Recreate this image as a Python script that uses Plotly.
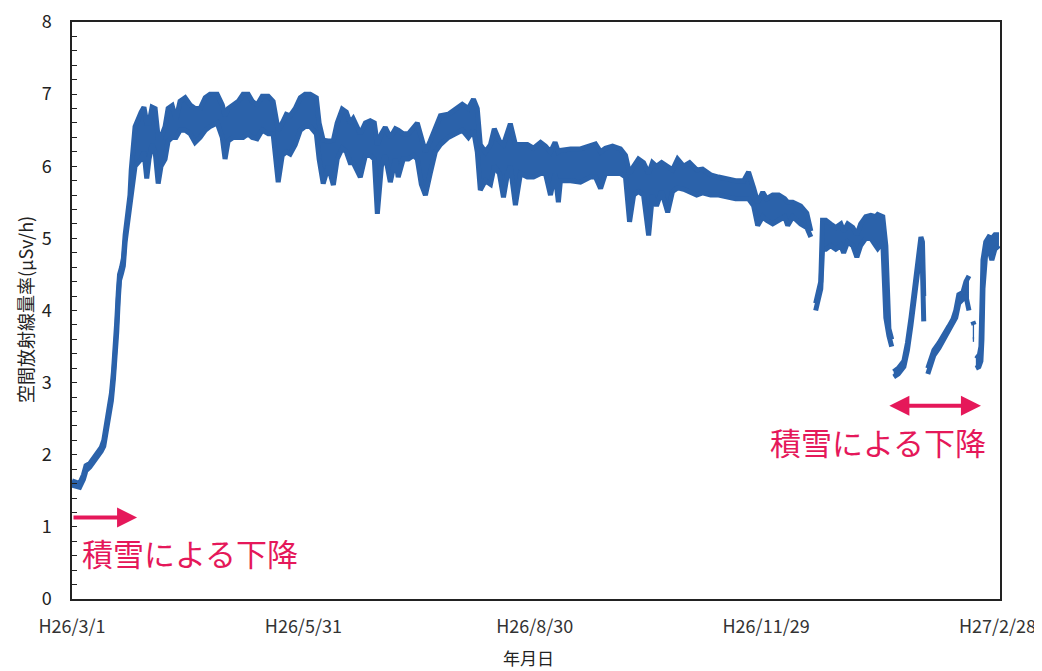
import pandas as pd
import plotly.graph_objects as go

# days since H26/3/1, upper / lower edge of the hourly readings (uSv/h)
main_day = [0, 1.5, 3, 4.5, 5.5, 7, 8.5, 10, 11.5, 12.5, 13.5, 14.5, 15.5, 16.3, 17, 17.6, 18.2, 18.7, 19.5,
            20.2, 20.9, 21.6, 22.2, 22.8, 23.3, 24, 24.8, 27.2, 28.3, 29.4, 30.3, 31.5, 32.7, 33.9, 35, 36.6,
            37.8, 39.4, 40.9, 42.5, 44.5, 46.5, 48.4, 50.4, 52.4, 54.3, 57.1, 59.1, 60.2, 61.4, 63.4, 65.4,
            67.3, 69.3, 70.9, 72.8, 74.8, 77.2, 79.1, 81.1, 82.7, 84.3, 85.8, 87.8, 89.8, 91.7, 93.7, 96.1,
            97.2, 98.8, 100.8, 102.8, 104.3, 106.3, 107.9, 109.4, 110.6, 113.4, 115.4, 117.3, 118.9, 120.1,
            121.7, 123.2, 125.2, 127.2, 128.3, 130.3, 132.3, 134.3, 135.8, 137.4, 139, 140.9, 142.9, 144.9,
            148, 150.8, 153.5, 155.9, 157.9, 159.4, 160.6, 162.6, 164.6, 166.1, 168.1, 169.7, 171.3, 172.4,
            174.4, 176.4, 179.1, 181.5, 184.3, 186.2, 188.2, 190, 191.3, 192.1, 196.1, 200, 203.9, 205.9,
            207.9, 209.8, 212.6, 215.7, 217.7, 219.3, 220.9, 222.8, 224.8, 226.8, 228.3, 229.9, 231.9, 234.3,
            236.2, 238.2, 240.6, 242.9, 245.7, 248, 251.2, 254.3, 257.5, 261, 264.2, 266.1, 268.1, 269.7,
            271.7, 273.2, 275.6, 278, 280.3, 281.5, 283.5, 286.6, 289, 290.6]
main_top = [1.64, 1.62, 1.6, 1.72, 1.85, 1.88, 1.96, 2.02, 2.1, 2.2, 2.4, 2.62, 2.85, 3.15, 3.45, 3.85, 4.25, 4.5, 4.6,
            4.72, 5.05, 5.25, 5.45, 5.6, 5.95, 6.3, 6.55, 6.75, 6.82, 6.6, 6.6, 6.82, 6.8, 6.4, 6.4, 6.55,
            6.8, 6.84, 6.65, 6.9, 6.95, 6.85, 6.8, 6.8, 6.95, 7.0, 7.0, 6.85, 6.7, 6.8, 6.86, 6.9,
            7.0, 7.0, 6.9, 6.85, 6.97, 6.97, 6.9, 6.5, 6.6, 6.72, 6.7, 6.8, 6.95, 7.0, 7.0, 6.95,
            6.6, 6.36, 6.35, 6.36, 6.6, 6.79, 6.75, 6.6, 6.66, 6.45, 6.6, 6.63, 6.6, 6.3,
            6.45, 6.54, 6.4, 6.52, 6.5, 6.45, 6.45, 6.55, 6.6, 6.4, 6.2, 6.35, 6.55, 6.7,
            6.72, 6.8, 6.86, 6.8, 6.93, 6.8, 6.3, 6.2, 6.3, 6.52, 6.35, 6.3, 6.45, 6.59,
            6.3, 6.3, 6.3, 6.25, 6.33, 6.28, 6.2, 6.33, 6.2, 6.22, 6.24, 6.24, 6.28, 6.31,
            6.2, 6.25, 6.28, 6.24, 6.15, 5.9, 6.0, 6.1, 6.05, 5.9, 6.05, 6.0, 6.05, 6.0,
            5.95, 6.1, 6.0, 6.05, 5.95, 5.96, 5.88, 5.85, 5.82, 5.8, 5.8, 5.92, 5.7, 5.5,
            5.64, 5.55, 5.6, 5.6, 5.55, 5.5, 5.5, 5.45, 5.35, 5.1]
main_low = [1.58, 1.56, 1.55, 1.66, 1.78, 1.83, 1.9, 1.96, 2.05, 2.12, 2.3, 2.55, 2.75, 3.05, 3.35, 3.7, 4.15, 4.42, 4.52,
            4.62, 4.95, 5.15, 5.35, 5.5, 5.7, 5.9, 6.0, 6.1, 6.2, 5.83, 6.1, 6.3, 6.2, 5.76, 6.0, 6.1,
            6.35, 6.4, 6.4, 6.5, 6.5, 6.45, 6.33, 6.4, 6.5, 6.55, 6.6, 6.4, 6.1, 6.35, 6.4, 6.4,
            6.4, 6.45, 6.4, 6.38, 6.5, 6.45, 6.45, 5.78, 6.15, 6.2, 6.17, 6.3, 6.5, 6.55, 6.55, 6.45,
            6.1, 5.76, 6.0, 5.74, 6.1, 6.25, 6.2, 6.05, 6.05, 5.85, 6.15, 6.15, 6.1, 5.34,
            6.0, 6.15, 5.78, 6.1, 5.85, 6.1, 6.1, 6.15, 6.1, 5.75, 5.6, 5.9, 6.2, 6.3,
            6.4, 6.45, 6.5, 6.4, 6.5, 6.2, 5.67, 5.8, 5.75, 6.0, 5.9, 5.57, 5.9, 6.0,
            5.46, 5.9, 5.85, 5.85, 5.9, 5.9, 5.6, 5.9, 5.5, 5.8, 5.8, 5.78, 5.85, 5.85,
            5.69, 5.9, 5.9, 5.9, 5.85, 5.23, 5.6, 5.65, 5.6, 5.04, 5.6, 5.45, 5.65, 5.36,
            5.65, 5.7, 5.68, 5.65, 5.6, 5.63, 5.6, 5.6, 5.58, 5.55, 5.55, 5.55, 5.45, 5.18,
            5.3, 5.25, 5.2, 5.25, 5.3, 5.18, 5.3, 5.2, 5.15, 5.02]

# after the data gap (winter)
seg2_day = [292.5, 293.5, 294.5, 295.2, 296.5, 298.4, 300.4, 302.4, 303.5, 305.1, 307.1, 308.7, 310.2, 312.2,
            314.2, 316.1, 316.9, 318.9, 320.1, 321.3, 322.4]
seg2_top = [4.1, 4.25, 4.4, 5.25, 5.25, 5.2, 5.15, 5.2, 5.1, 5.2, 5.15, 5.05, 5.2, 5.3,
            5.32, 5.3, 5.33, 5.3, 4.9, 3.75, 3.6]
seg2_low = [4.0, 4.15, 4.3, 4.85, 4.85, 4.9, 4.85, 4.9, 4.8, 4.95, 4.9, 4.74, 4.9, 5.0,
            5.0, 4.9, 4.86, 4.95, 3.9, 3.65, 3.5]

seg3_day = [323.2, 325.0, 327.2, 328.6, 330.0, 331.0, 332.0, 333.0, 333.9, 334.5, 335.0]
seg3_top = [3.15, 3.2, 3.3, 3.55, 3.9, 4.2, 4.5, 4.8, 5.02, 4.95, 4.2]
seg3_low = [3.08, 3.12, 3.22, 3.45, 3.8, 4.1, 4.4, 4.7, 4.9, 4.6, 3.85]

seg4_day = [336.6, 339, 341, 342.9, 344.9, 346.5, 347.6, 348.8, 350.4, 351.6, 352.8]
seg4_top = [3.2, 3.45, 3.55, 3.68, 3.78, 3.88, 4.0, 4.22, 4.25, 4.4, 4.48]
seg4_low = [3.12, 3.38, 3.48, 3.6, 3.7, 3.8, 3.9, 4.1, 4.15, 4.2, 4.0]

seg5_day = [354.3, 354.8]
seg5_top = [3.85, 3.8]
seg5_low = [3.6, 3.6]

seg6_day = [355.5, 356.7, 357.5, 357.9, 358.3, 359.4, 360.6, 361.8, 363, 364.6]
seg6_top = [3.38, 3.35, 3.5, 4.0, 4.7, 4.95, 5.02, 5.0, 5.05, 5.05]
seg6_low = [3.2, 3.22, 3.3, 3.6, 4.3, 4.8, 4.85, 4.7, 4.85, 4.9]

tick_dates = ['2014-03-01', '2014-05-31', '2014-08-30', '2014-11-29', '2015-02-28']
tick_text = ['H26/3/1', 'H26/5/31', 'H26/8/30', 'H26/11/29', 'H27/2/28']

BLUE = '#2B62AA'
RED = '#E5185A'
start = pd.Timestamp('2014-03-01')


def to_date(days):
	return start + pd.to_timedelta(days, unit='D')


fig = go.Figure()
segments = [(main_day, main_top, main_low), (seg2_day, seg2_top, seg2_low), (seg3_day, seg3_top, seg3_low),
            (seg4_day, seg4_top, seg4_low), (seg5_day, seg5_top, seg5_low), (seg6_day, seg6_top, seg6_low)]
for d, top, low in segments:
	x = to_date(d)
	fig.add_trace(go.Scatter(x=x, y=low, mode='lines', line=dict(color=BLUE, width=5), hoverinfo='skip'))
	fig.add_trace(go.Scatter(x=x, y=top, mode='lines', line=dict(color=BLUE, width=5),
		fill='tonexty', fillcolor=BLUE))

# the page body adds 8px on the left and top, so margins are set with that in mind
ML, MR, MT, MB = 64, 50, 14, 80
FONT = 'Noto Sans CJK JP'
fig.update_layout(
	width=1042, height=671,
	margin=dict(l=ML, r=MR, t=MT, b=MB),
	paper_bgcolor='white', plot_bgcolor='white',
	showlegend=False,
	font=dict(family=FONT, color='#222'),
)
fig.update_xaxes(
	range=[start, to_date(365)], automargin=False, ticklabeloverflow='allow',
	tickvals=pd.to_datetime(tick_dates), ticktext=tick_text,
	tickfont=dict(size=18, color='#333'), ticklabelstandoff=11,
	showgrid=False, zeroline=False, ticks='',
	showline=True, linecolor='#222', linewidth=1.5, mirror=True,
)
fig.update_yaxes(
	range=[0, 8], dtick=1, automargin=False, ticklabeloverflow='allow',
	tickfont=dict(size=18, color='#222'), ticklabelstandoff=15,
	showgrid=False, zeroline=False,
	ticks='inside', ticklen=5, tickcolor='#222',
	minor=dict(dtick=0.2, ticks='inside', ticklen=5, tickcolor='#222'),
	showline=True, linecolor='#222', linewidth=1.5, mirror=True,
)

# axis titles, placed by pixel (screen coords minus the 8px page offset)
pw, ph = 1042 - ML - MR, 671 - MT - MB
def px(xs, ys):
	return (xs - 8 - ML) / pw, (671 - MB + 8 - ys) / ph

tx, ty = px(25, 310)
fig.add_annotation(x=tx, y=ty, xref='paper', yref='paper', xanchor='center', yanchor='middle',
	text='空間放射線量率(μSv/h)', showarrow=False, textangle=-90, font=dict(size=18, color='#222'))
tx, ty = px(528, 657)
fig.add_annotation(x=tx, y=ty, xref='paper', yref='paper', xanchor='center', yanchor='middle',
	text='年月日', showarrow=False, font=dict(size=17, color='#222'))

# snow arrows and notes
fig.add_annotation(x=to_date(25.6), y=1.13, ax=start, ay=1.13, axref='x', ayref='y', xref='x', yref='y',
	text='', showarrow=True, arrowhead=2, arrowsize=1, arrowwidth=4, arrowcolor=RED)
fig.add_annotation(x=to_date(46.5), y=0.65, text='積雪による下降', showarrow=False,
	font=dict(size=31, color=RED, family=FONT))
fig.add_annotation(x=to_date(357.5), y=2.68, ax=to_date(320.9), ay=2.68, axref='x', ayref='y', xref='x', yref='y',
	text='', showarrow=True, arrowhead=2, startarrowhead=2, arrowside='end+start', arrowsize=1, arrowwidth=4,
	arrowcolor=RED)
fig.add_annotation(x=to_date(317), y=2.18, text='積雪による下降', showarrow=False,
	font=dict(size=31, color=RED, family=FONT))

fig.write_html('out.html')
